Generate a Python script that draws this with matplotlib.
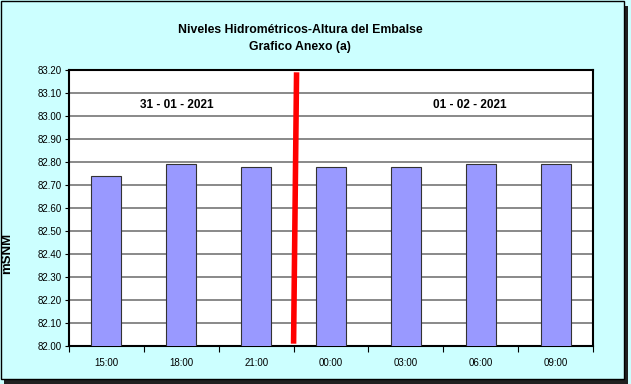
"""
Niveles hidrometricos - altura del embalse, grafico anexo (a).
"""

import matplotlib.pyplot as plt
from matplotlib.patches import Rectangle

# data
horas = ['15:00', '18:00', '21:00', '00:00', '03:00', '06:00', '09:00']
niveles = [82.74, 82.79, 82.78, 82.78, 82.78, 82.79, 82.79]
y_ticks = [82.00, 82.10, 82.20, 82.30, 82.40, 82.50, 82.60, 82.70,
           82.80, 82.90, 83.00, 83.10, 83.20]
fechas = ['31 - 01 - 2021', '01 - 02 - 2021']
fechas_x = [0.94, 4.86]
fechas_y = [83.05, 83.05]
# day separator (red line), slightly slanted like the original
corte_x = [2.54, 2.50]
corte_y = [83.19, 82.01]

plt.rcParams['font.family'] = ['Liberation Sans', 'DejaVu Sans']

fig = plt.figure(figsize=(6.31, 3.84), dpi=100)
fig.patch.set_facecolor('#CCFFFF')

# frame with shadow around the whole chart
W, H = 631.0, 384.0
fig.patches.append(Rectangle((4 / W, 0), 624 / W, 378 / H, transform=fig.transFigure,
                             facecolor='#202020', edgecolor='none', zorder=0))
fig.patches.append(Rectangle((1 / W, 5 / H), 623 / W, 378 / H, transform=fig.transFigure,
                             facecolor='#CCFFFF', edgecolor='black', linewidth=1, zorder=1))

ax = fig.add_axes([69 / W, 1 - 346 / H, 524 / W, 276 / H])
ax.set_facecolor('white')
ax.set_zorder(2)

x = list(range(len(horas)))
ax.bar(x, niveles, width=0.4, bottom=0, color='#9999FF', edgecolor='#333333',
       linewidth=0.8, zorder=3)

ax.set_ylim(82.0, 83.2)
ax.set_xlim(-0.5, len(horas) - 0.5)
ax.set_yticks(y_ticks)
ax.set_yticklabels([f'{v:.2f}' for v in y_ticks], fontsize=7)
ax.yaxis.grid(True, color='#808080', linewidth=1.3, zorder=1)
ax.set_axisbelow(True)

# category labels between boundary ticks
ax.set_xticks([i - 0.5 for i in range(len(horas) + 1)])
ax.set_xticklabels([])
ax.set_xticks(x, minor=True)
ax.set_xticklabels(horas, minor=True, fontsize=7)
ax.tick_params(axis='x', which='minor', length=0, pad=9)
ax.tick_params(axis='x', which='major', length=4, width=0.8)
ax.tick_params(axis='y', length=3, width=0.8, pad=2)

for s in ax.spines.values():
    s.set_linewidth(1.5)
    s.set_color('black')

ax.plot(corte_x, corte_y, color='#FF0000', linewidth=4, solid_capstyle='butt',
        zorder=5, clip_on=False)

for txt, fx, fy in zip(fechas, fechas_x, fechas_y):
    ax.text(fx, fy, txt, ha='center', va='center', fontsize=8.5,
            fontweight='bold', zorder=6)

ax.set_ylabel('mSNM', fontsize=9.5, fontweight='bold')
ax.yaxis.set_label_coords(-0.107, 0.337)

fig.text(0.476, 1 - 30 / H, 'Niveles Hidrométricos-Altura del Embalse', ha='center',
         va='center', fontsize=8.8, fontweight='bold')
fig.text(0.476, 1 - 47 / H, 'Grafico Anexo (a)', ha='center', va='center',
         fontsize=8.8, fontweight='bold')

fig.savefig('out.png', dpi=100, facecolor=fig.get_facecolor())
